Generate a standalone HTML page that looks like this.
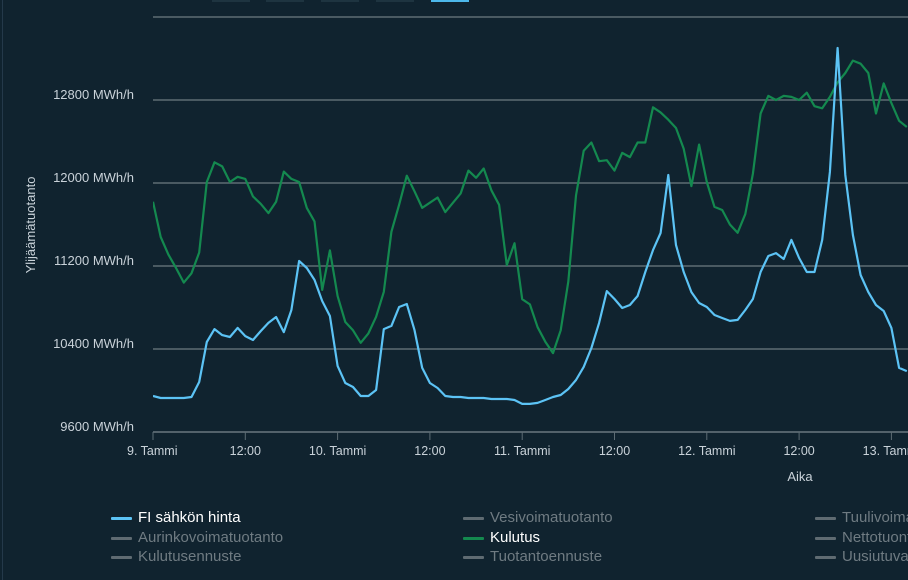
<!DOCTYPE html>
<html><head><meta charset="utf-8">
<style>
html,body{margin:0;padding:0;background:#10232f;width:908px;height:580px;overflow:hidden;font-family:"Liberation Sans",sans-serif;}
.leg{position:absolute;font-family:"Liberation Sans Narrow","Liberation Sans",sans-serif;font-size:15px;color:#6f7b82;white-space:nowrap;}
.leg i{display:inline-block;width:21px;height:3px;background:#5f6b72;vertical-align:middle;margin-right:6px;border-radius:1px;}
.leg.on{color:#fff}
</style></head><body>
<div style="position:absolute;left:2px;top:0;width:1px;height:580px;background:#24394a"></div>
<div>
<div style="position:absolute;left:212px;top:0;width:38px;height:2px;background:#1e3440"></div>
<div style="position:absolute;left:266px;top:0;width:38px;height:2px;background:#1e3440"></div>
<div style="position:absolute;left:321px;top:0;width:38px;height:2px;background:#1e3440"></div>
<div style="position:absolute;left:376px;top:0;width:38px;height:2px;background:#1e3440"></div>
<div style="position:absolute;left:431px;top:0;width:38px;height:2px;background:#4db8ea"></div>
</div>
<svg id="chart" width="908" height="500" style="position:absolute;left:0;top:0" xmlns="http://www.w3.org/2000/svg"></svg>

<div class="leg on" style="left:111px;top:509px"><i style="background:#5cc3f5"></i>FI sähkön hinta</div>
<div class="leg" style="left:463px;top:509px"><i></i>Vesivoimatuotanto</div>
<div class="leg" style="left:815px;top:509px"><i></i>Tuulivoimatuotanto</div>
<div class="leg" style="left:111px;top:529px"><i></i>Aurinkovoimatuotanto</div>
<div class="leg on" style="left:463px;top:529px"><i style="background:#14894f"></i>Kulutus</div>
<div class="leg" style="left:815px;top:529px"><i></i>Nettotuonti</div>
<div class="leg" style="left:111px;top:548px"><i></i>Kulutusennuste</div>
<div class="leg" style="left:463px;top:548px"><i></i>Tuotantoennuste</div>
<div class="leg" style="left:815px;top:548px"><i></i>Uusiutuvat</div>

<script>
const yTicks=[9600,10400,11200,12000,12800,13600];
const xTickHours=[0,12,24,36,48,60,72,84,96];
const xTickLabels=["9. Tammi","12:00","10. Tammi","12:00","11. Tammi","12:00","12. Tammi","12:00","13. Tammi"];
const consumption=[11820,11480,11310,11180,11040,11130,11330,12010,12200,12160,12010,12060,12040,11870,11800,11710,11820,12110,12040,12010,11760,11630,10970,11350,10910,10660,10580,10460,10550,10710,10950,11530,11790,12070,11920,11760,11810,11860,11720,11810,11900,12120,12050,12140,11930,11790,11210,11420,10880,10830,10610,10470,10360,10580,11050,11880,12310,12390,12210,12220,12120,12290,12250,12390,12390,12730,12680,12610,12530,12330,11970,12370,12010,11770,11740,11600,11520,11700,12090,12670,12840,12800,12840,12830,12800,12870,12740,12720,12830,12970,13060,13180,13150,13060,12670,12960,12770,12600,12540];
const price=[2.17,2.05,2.05,2.05,2.05,2.11,3.01,5.42,6.20,5.84,5.72,6.27,5.78,5.54,6.08,6.57,6.93,6.02,7.35,10.30,9.88,9.16,7.89,6.99,3.98,2.95,2.71,2.17,2.17,2.53,6.20,6.39,7.53,7.71,6.14,3.86,2.95,2.65,2.17,2.11,2.11,2.05,2.05,2.05,1.99,1.99,1.99,1.93,1.69,1.69,1.75,1.93,2.11,2.23,2.59,3.13,3.92,5.06,6.57,8.49,8.01,7.47,7.65,8.19,9.64,10.96,11.99,15.48,11.26,9.64,8.43,7.77,7.53,7.05,6.87,6.69,6.75,7.35,8.01,9.64,10.60,10.78,10.42,11.57,10.48,9.64,9.64,11.57,15.66,23.13,15.48,11.87,9.46,8.43,7.65,7.29,6.27,3.86,3.67];

const NS="http://www.w3.org/2000/svg";
const svg=document.getElementById('chart');
const X0=153,PXH=92.3/12,Y0=432,PXU=83/800;
const xAt=h=>X0+h*PXH;
const yAt=v=>Y0-(v-9600)*PXU;
const yPrice=p=>Y0-p*83/5;
function mk(tag,attrs){const e=document.createElementNS(NS,tag);for(const k in attrs)e.setAttribute(k,attrs[k]);svg.appendChild(e);return e;}

yTicks.forEach((v,i)=>{
  const g=mk('line',{x1:X0,x2:908,y1:yAt(v),y2:yAt(v),stroke:'#5d6c74','stroke-width':1.5});
  
  
  if(v<13600){
    const t=mk('text',{x:134,y:yAt(v)-1,'text-anchor':'end',fill:'#c9d2d9','font-size':13,'font-family':'Liberation Sans, sans-serif'});
    t.textContent=v+' MWh/h';
    
    
  }
});
const ax=mk('line',{x1:X0,x2:908,y1:Y0,y2:Y0,stroke:'#5d6c74','stroke-width':1.5});


xTickHours.forEach((h,i)=>{
  const tk=mk('line',{x1:xAt(h),x2:xAt(h),y1:Y0,y2:Y0+8,stroke:'#5d6c74','stroke-width':1});
  
  
  const t=mk('text',{x:xAt(h),y:455,'text-anchor':(i===0?'start':'middle'),fill:'#c9d2d9','font-size':12.5,'font-family':'Liberation Sans, sans-serif'});
  if(i===0)t.setAttribute('x',xAt(h)-26);
  t.textContent=xTickLabels[i];
  
  
});
const xt=mk('text',{x:800,y:481,'text-anchor':'middle',fill:'#c9d2d9','font-size':13,'font-family':'Liberation Sans, sans-serif'});
xt.textContent='Aika';


const yt=mk('text',{x:0,y:0,transform:'translate(35,225) rotate(-90)','text-anchor':'middle',fill:'#c9d2d9','font-size':13,'font-family':'Liberation Sans, sans-serif'});
yt.textContent='Ylijäämätuotanto';



const clip=mk('clipPath',{id:'pc'});
const cr=document.createElementNS(NS,'rect');
cr.setAttribute('x',X0);cr.setAttribute('y',0);cr.setAttribute('width',908-X0);cr.setAttribute('height',Y0);
clip.appendChild(cr);

const gp=consumption.map((v,i)=>xAt(i).toFixed(1)+','+yAt(v).toFixed(1)).join(' ');
const gl=mk('polyline',{points:gp,fill:'none',stroke:'#14894f','stroke-width':2.2,'stroke-linejoin':'round','clip-path':'url(#pc)'});


const bp=price.map((v,i)=>xAt(i).toFixed(1)+','+yPrice(v).toFixed(1)).join(' ');
const bl=mk('polyline',{points:bp,fill:'none',stroke:'#5cc3f5','stroke-width':2.2,'stroke-linejoin':'round','clip-path':'url(#pc)'});


</script>
</body></html>
